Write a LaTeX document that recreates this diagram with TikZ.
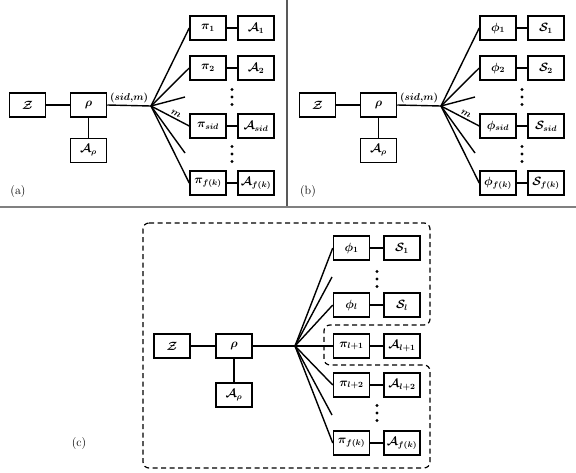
\documentclass[tikz,border=0pt]{standalone}
\usepackage{amsmath}
\tikzset{
  box/.style={draw,line width=1.5pt,minimum width=36pt,minimum height=24pt,inner sep=1pt,font=\fontsize{11.5}{13}\selectfont\boldmath},
  link/.style={line width=1.4pt},
  sep/.style={gray!70!black,line width=1.6pt},
}
\newcommand{\dotcol}[2]{\foreach \d in {-7.5,0,7.5} \fill (#1,#2+\d) circle[radius=1.6pt];}
\begin{document}
\begin{tikzpicture}[x=1pt,y=-1pt]
    \useasboundingbox (0,0) rectangle (576,472);
    %separators
    \draw[sep] (287,0) -- (287,206);
    \draw[sep,gray] (0,207) -- (576,207);
    %panels (a) and (b)
    \foreach \ox/\p/\f/\g in {0/a/\pi/A,290/b/\phi/S} {
    \begin{scope}[xshift=\ox pt]
      \node[box] (\p z) at (27.5,105) {$\mathcal{Z}$};
      \node[box] (\p rho) at (88.5,105) {$\rho$};
      \node[box] (\p arho) at (88.5,150.5) {$\mathcal{A}_\rho$};
      \coordinate (\p fan) at (151,106);
      \node[box] (\p f1) at (208,28) {$\f_1$};
      \node[box] (\p g1) at (256,28) {$\mathcal{\g}_1$};
      \node[box] (\p f2) at (208,68) {$\f_2$};
      \node[box] (\p g2) at (256,68) {$\mathcal{\g}_2$};
      \node[box] (\p fs) at (208,126) {$\f_{sid}$};
      \node[box] (\p gs) at (256,126) {$\mathcal{\g}_{sid}$};
      \node[box] (\p fk) at (208,183) {$\f_{f(k)}$};
      \node[box] (\p gk) at (256,183) {$\mathcal{\g}_{f(k)}$};
      \coordinate (\p stub1) at (185,97);
      \coordinate (\p stub2) at (185,153);
      \dotcol{232}{97}
      \dotcol{232}{154}
      %lines
      \draw[link] (\p z) -- (\p rho);
      \draw[link] (\p rho) -- (\p arho);
      \draw[link] (\p rho.east) -- node[above,font=\boldmath,inner sep=2pt] {$(sid{,}m)$} (\p fan);
      \draw[link] (\p fan) -- (\p f1.west);
      \draw[link] (\p fan) -- (\p f2.west);
      \draw[link] (\p fan) -- (\p stub1);
      \draw[link] (\p fan) -- node[above,sloped,font=\boldmath,pos=0.6,inner sep=1.5pt] {$m$} (\p fs.west);
      \draw[link] (\p fan) -- (\p stub2);
      \draw[link] (\p fan) -- (\p fk.west);
      \foreach \r in {1,2,s,k}
        \draw[link] (\p f\r) -- (\p g\r);
      \node[font=\large] (\p lab) at (18,192) {(\p)};
    \end{scope}
    }
    %panel (c)
    \draw[line width=1.2pt,dash pattern=on 5pt off 3.5pt,rounded corners=6pt]
      (143,223) -- (430,223) -- (430,325) -- (324,325) -- (324,365)
      -- (430,365) -- (430,468) -- (143,468) -- cycle;
    \node[box] (cz) at (172,346) {$\mathcal{Z}$};
    \node[box] (crho) at (234,346) {$\rho$};
    \node[box] (carho) at (234,395) {$\mathcal{A}_\rho$};
    \coordinate (cfan) at (295,346);
    \node[box] (cf1) at (351.5,248) {$\phi_1$};
    \node[box] (cg1) at (402,248) {$\mathcal{S}_1$};
    \node[box] (cf2) at (351.5,305) {$\phi_l$};
    \node[box] (cg2) at (402,305) {$\mathcal{S}_l$};
    \node[box] (cf3) at (351.5,346) {$\pi_{l+1}$};
    \node[box] (cg3) at (402,346) {$\mathcal{A}_{l+1}$};
    \node[box] (cf4) at (351.5,385) {$\pi_{l+2}$};
    \node[box] (cg4) at (402,385) {$\mathcal{A}_{l+2}$};
    \node[box] (cf5) at (351.5,443) {$\pi_{f(k)}$};
    \node[box] (cg5) at (402,443) {$\mathcal{A}_{f(k)}$};
    \coordinate (cstub1) at (332,277);
    \coordinate (cstub2) at (332,415);
    \dotcol{377}{279}
    \dotcol{377}{413}
    %lines
    \draw[link] (cz) -- (crho);
    \draw[link] (crho) -- (carho);
    \draw[link] (crho.east) -- (cfan);
    \foreach \r in {1,2,3,4,5} {
      \draw[link] (cfan) -- (cf\r.west);
      \draw[link] (cf\r) -- (cg\r);
    }
    \draw[link] (cfan) -- (cstub1);
    \draw[link] (cfan) -- (cstub2);
    \node[font=\large] (clab) at (79,443) {(c)};
\end{tikzpicture}
\end{document}
